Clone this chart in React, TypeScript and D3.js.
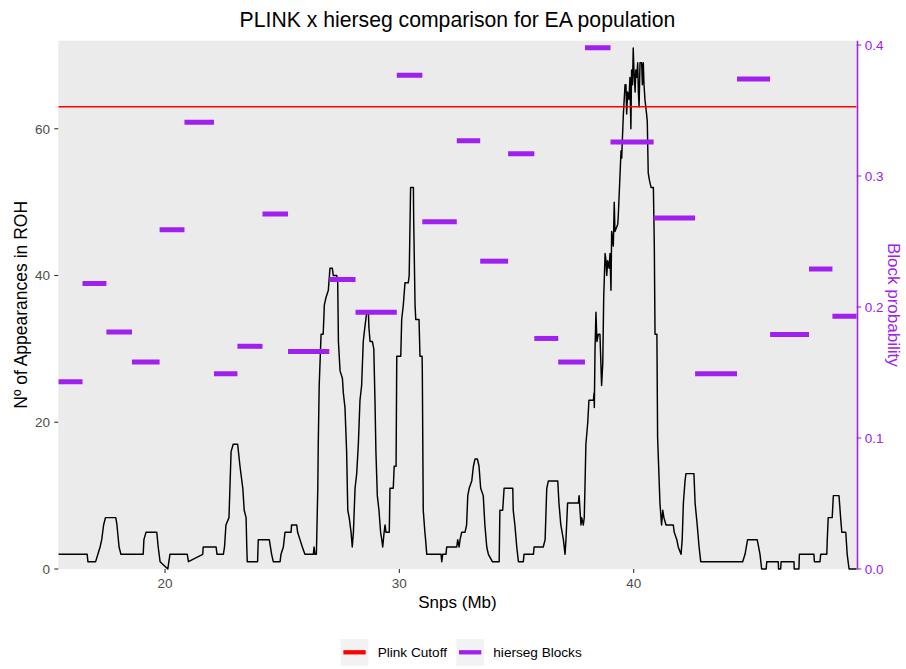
import React from "react";
import * as d3 from "d3";

// ---------------- data ----------------
const xTicks = [20, 30, 40];
const yTicks = [0, 20, 40, 60];
const probTicks = [0.0, 0.1, 0.2, 0.3, 0.4];
const plinkCutoff = 63;

// hierseg blocks: contiguous edges (Mb) and probability of each block
const blockEdges = [
  15.45, 16.48, 17.5, 18.59, 19.77, 20.83, 22.09, 23.09, 24.16, 25.25, 27.01,
  28.13, 29.89, 30.98, 32.45, 33.45, 34.64, 35.76, 36.78, 37.92, 39.01, 40.85,
  42.62, 44.41, 45.82, 47.48, 48.48, 49.52,
];
const blockProb = [
  0.143, 0.218, 0.181, 0.158, 0.259, 0.341, 0.149, 0.17, 0.271, 0.166, 0.221,
  0.196, 0.377, 0.265, 0.327, 0.235, 0.317, 0.176, 0.158, 0.398, 0.326, 0.268,
  0.149, 0.374, 0.179, 0.229, 0.193,
];

// PLINK ROH appearances along the chromosome
const snpMb = [
  15.45, 16.68, 16.71, 17.04, 17.23, 17.3, 17.38, 17.46, 17.9, 17.95, 18.04, 18.12,
  19.07, 19.1, 19.19, 19.65, 19.71, 19.79, 20.12, 20.21, 20.95, 21.0, 21.61, 21.63,
  22.18, 22.22, 22.49, 22.54, 22.6, 22.73, 22.77, 22.82, 22.91, 23.1, 23.2, 23.32,
  23.38, 23.46, 23.49, 23.51, 23.95, 23.98, 24.45, 24.55, 24.62, 24.91, 24.95, 25.05,
  25.12, 25.38, 25.4, 25.62, 25.66, 25.76, 25.86, 25.97, 26.33, 26.36, 26.4, 26.46,
  26.52, 26.54, 26.58, 26.66, 26.75, 26.8, 26.87, 26.97, 27.04, 27.14, 27.18, 27.33,
  27.37, 27.4, 27.47, 27.57, 27.61, 27.68, 27.75, 27.8, 27.86, 27.94, 27.99, 28.04,
  28.11, 28.18, 28.25, 28.32, 28.39, 28.46, 28.53, 28.61, 28.68, 28.7, 28.75, 28.85,
  28.91, 28.96, 29.0, 29.06, 29.13, 29.2, 29.25, 29.29, 29.35, 29.39, 29.43, 29.57,
  29.6, 29.74, 29.78, 29.86, 29.89, 30.06, 30.1, 30.17, 30.24, 30.38, 30.42, 30.48,
  30.6, 30.61, 30.67, 30.7, 30.84, 30.88, 30.97, 30.98, 31.02, 31.09, 31.12, 31.17,
  31.78, 31.81, 31.85, 31.99, 32.02, 32.45, 32.49, 32.55, 32.59, 32.66, 32.8, 32.87,
  32.92, 32.98, 33.09, 33.16, 33.23, 33.33, 33.4, 33.47, 33.58, 33.65, 33.73, 33.8,
  33.97, 34.26, 34.29, 34.41, 34.47, 34.84, 34.86, 34.93, 35.01, 35.08, 35.29, 35.32,
  35.72, 35.75, 36.14, 36.22, 36.29, 36.36, 36.76, 36.81, 36.89, 37.0, 37.07, 37.11,
  37.18, 37.64, 37.67, 37.71, 37.75, 37.78, 37.85, 37.89, 37.92, 37.96, 38.04, 38.09,
  38.28, 38.31, 38.32, 38.35, 38.39, 38.43, 38.49, 38.56, 38.6, 38.63, 38.68, 38.72,
  38.78, 38.82, 38.85, 38.89, 38.95, 38.99, 39.03, 39.06, 39.13, 39.17, 39.2, 39.32,
  39.34, 39.42, 39.46, 39.49, 39.51, 39.56, 39.63, 39.67, 39.7, 39.74, 39.8, 39.84,
  39.88, 39.91, 39.95, 39.98, 40.01, 40.06, 40.09, 40.13, 40.17, 40.2, 40.23, 40.27,
  40.34, 40.37, 40.41, 40.44, 40.48, 40.55, 40.58, 40.62, 40.67, 40.74, 40.84, 40.88,
  40.91, 40.99, 41.02, 41.12, 41.19, 41.24, 41.29, 41.38, 41.69, 41.73, 41.84, 41.9,
  42.02, 42.07, 42.12, 42.19, 42.23, 42.57, 42.62, 42.71, 42.79, 42.86, 44.65, 44.75,
  44.86, 45.27, 45.33, 45.39, 45.46, 45.65, 45.68, 46.17, 46.18, 46.27, 46.29, 46.84,
  46.85, 47.05, 47.07, 47.69, 47.71, 47.95, 47.98, 48.24, 48.26, 48.3, 48.47, 48.52,
  48.76, 48.83, 48.88, 49.05, 49.11, 49.19, 49.52,
];
const rohCount = [
  2, 2, 1, 1, 3, 4, 6, 7, 7, 6, 3, 2,
  2, 4, 5, 5, 3, 1, 0, 2, 2, 1, 2, 3,
  3, 2, 2, 3, 6, 7, 11, 16, 17, 17, 14, 11,
  8, 7, 3, 1, 1, 4, 4, 2, 1, 1, 2, 3,
  5, 5, 6, 6, 5, 4, 3, 2, 2, 3, 2, 2,
  11, 17, 25, 32, 32, 36, 37, 38, 41, 41, 40, 40,
  39, 31, 27, 26, 24, 22, 16, 8, 7, 5, 3, 5,
  11, 13, 17, 23, 25, 31, 33, 35, 35, 33, 31, 31,
  30, 23, 16, 10, 8, 5, 4, 3, 5, 6, 5, 5,
  11, 11, 14, 14, 29, 29, 34, 36, 39, 39, 40, 52,
  52, 48, 36, 34, 34, 29, 29, 27, 8, 5, 4, 2,
  2, 1, 2, 2, 3, 3, 4, 3, 4, 5, 5, 6,
  10, 11, 12, 14, 15, 15, 14, 11, 10, 6, 3, 2,
  1, 1, 8, 8, 11, 11, 8, 6, 3, 1, 1, 2,
  2, 3, 3, 4, 11, 12, 12, 9, 6, 4, 2, 4,
  9, 9, 10, 8, 6, 7, 6, 7, 11, 17, 20, 23,
  23, 24, 22, 30, 35, 31, 32, 32, 28, 25, 28, 37,
  43, 42, 40, 42, 41, 43, 38, 46, 44, 50, 46, 47,
  48, 54, 57, 56, 58, 62, 66, 66, 62, 65, 64, 67,
  60, 68, 66, 71, 68, 65, 68, 67, 69, 65, 63, 69,
  69, 66, 69, 66, 64, 62, 61, 54, 53, 52, 52, 44,
  32, 32, 18, 9, 6, 8, 7, 6, 6, 5, 4, 3,
  2, 4, 9, 12, 13, 13, 9, 6, 3, 1, 1, 2,
  4, 4, 3, 2, 0, 0, 1, 1, 0, 0, 1, 1,
  0, 0, 2, 2, 1, 1, 2, 2, 4, 7, 7, 10,
  10, 7, 5, 5, 2, 0, 0,
];

const legendLabels = ["Plink Cutoff", "hierseg Blocks"];
const legendColors = ["#FF0000", "#A020F0"];

// ---------------- layout ----------------
const W = 906;
const H = 669;
const P = { left: 58.3, right: 856.7, top: 40.7, bottom: 569 };
const FONT = "'Liberation Sans', Arial, Helvetica, sans-serif";
const PURPLE = "#A020F0";

export default function App() {
  const x = d3.scaleLinear().domain([15.447, 49.516]).range([P.left, P.right]);
  const y = d3.scaleLinear().domain([0, 72]).range([P.bottom, P.top]);
  const yP = d3.scaleLinear().domain([0, 0.4033]).range([P.bottom, P.top]);

  const pts: [number, number][] = snpMb.map((m, i) => [m, rohCount[i]]);
  const line = d3
    .line<[number, number]>()
    .x((d) => x(d[0]))
    .y((d) => y(d[1]));

  const midY = (P.top + P.bottom) / 2;
  const midX = (P.left + P.right) / 2;

  return (
    <div style={{ position: "fixed", left: 0, top: 0 }}>
      <svg width={W} height={H} style={{ display: "block", fontFamily: FONT }}>
        <rect x={0} y={0} width={W} height={H} fill="#FFFFFF" />
        {/* panel */}
        <rect
          x={P.left}
          y={P.top}
          width={P.right - P.left}
          height={P.bottom - P.top}
          fill="#EBEBEB"
        />
        <defs>
          <clipPath id="panel">
            <rect x={P.left} y={P.top - 2} width={P.right - P.left} height={P.bottom - P.top + 4} />
          </clipPath>
        </defs>
        <g clipPath="url(#panel)">
          <path d={line(pts) || ""} fill="none" stroke="#000000" strokeWidth={1.45} strokeLinejoin="round" />
          <line
            x1={P.left}
            x2={P.right}
            y1={y(plinkCutoff)}
            y2={y(plinkCutoff)}
            stroke="#FF0000"
            strokeWidth={1.4}
          />
          {blockProb.map((p, i) => (
            <line
              key={i}
              x1={x(blockEdges[i])}
              x2={x(blockEdges[i + 1])}
              y1={yP(p)}
              y2={yP(p)}
              stroke={PURPLE}
              strokeWidth={5}
            />
          ))}
        </g>

        {/* left axis */}
        {yTicks.map((t) => (
          <g key={"y" + t}>
            <line x1={P.left - 4} x2={P.left} y1={y(t)} y2={y(t)} stroke="#333333" strokeWidth={1.1} />
            <text x={P.left - 8.3} y={y(t) + 4.8} textAnchor="end" fontSize={13.5} fill="#4D4D4D">
              {t}
            </text>
          </g>
        ))}
        {/* bottom axis */}
        {xTicks.map((t) => (
          <g key={"x" + t}>
            <line x1={x(t)} x2={x(t)} y1={P.bottom} y2={P.bottom + 4} stroke="#333333" strokeWidth={1.1} />
            <text x={x(t)} y={P.bottom + 18.5} textAnchor="middle" fontSize={13.5} fill="#4D4D4D">
              {t}
            </text>
          </g>
        ))}
        {/* right axis */}
        <line x1={P.right + 0.8} x2={P.right + 0.8} y1={P.top} y2={P.bottom} stroke={PURPLE} strokeWidth={1.6} />
        {probTicks.map((t) => (
          <g key={"p" + t}>
            <line x1={P.right} x2={P.right + 4.5} y1={yP(t)} y2={yP(t)} stroke={PURPLE} strokeWidth={1.1} />
            <text x={P.right + 8} y={yP(t) + 4.8} textAnchor="start" fontSize={13.5} fill={PURPLE}>
              {t.toFixed(1)}
            </text>
          </g>
        ))}

        {/* titles */}
        <text x={midX} y={26.5} textAnchor="middle" fontSize={21.2} fill="#000000">
          PLINK x hierseg comparison for EA population
        </text>
        <text x={midX} y={607.5} textAnchor="middle" fontSize={17} fill="#000000">
          Snps (Mb)
        </text>
        <text
          transform={`translate(26.5,${midY}) rotate(-90)`}
          textAnchor="middle"
          fontSize={17.5}
          fill="#000000"
        >
          Nº of Appearances in ROH
        </text>
        <text
          transform={`translate(887.5,${midY}) rotate(90)`}
          textAnchor="middle"
          fontSize={17}
          fill={PURPLE}
        >
          Block probability
        </text>

        {/* legend */}
        {legendLabels.map((lab, i) => {
          const kx = i === 0 ? 340.7 : 456.3;
          return (
            <g key={lab}>
              <rect x={kx} y={639} width={27.6} height={26.7} fill="#F2F2F2" />
              <line x1={kx + 2.7} x2={kx + 25} y1={652.3} y2={652.3} stroke={legendColors[i]} strokeWidth={4.3} />
              <text x={kx + 37} y={657} fontSize={13.6} fill="#000000">
                {lab}
              </text>
            </g>
          );
        })}
      </svg>
    </div>
  );
}
